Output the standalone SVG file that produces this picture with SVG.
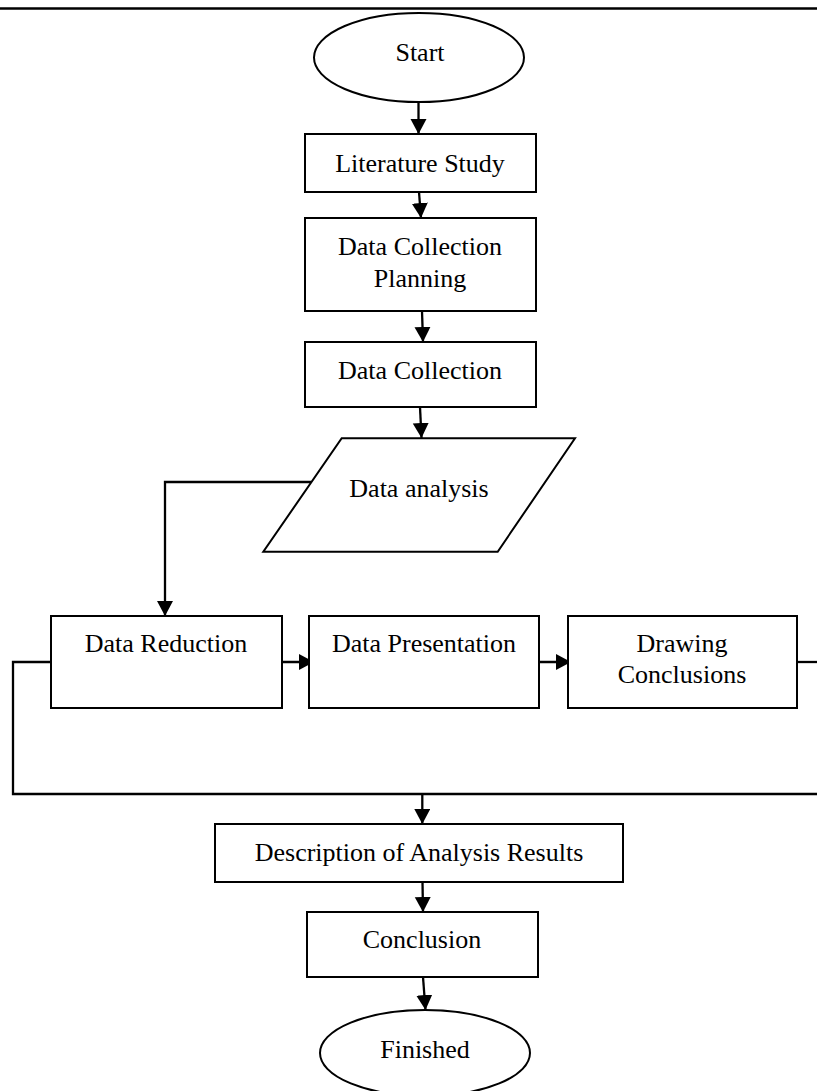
<svg xmlns="http://www.w3.org/2000/svg" width="817" height="1091" viewBox="0 0 817 1091">
<style>
.box{fill:#fff;stroke:#000;stroke-width:2}
.ln{fill:none;stroke:#000;stroke-width:2.3}
.t{font-family:"Liberation Serif","Times New Roman",serif;font-size:26px;fill:#000;text-anchor:middle}
</style>
<defs>
<marker id="ah" markerUnits="userSpaceOnUse" markerWidth="18" markerHeight="18" refX="15" refY="8" orient="auto">
<path d="M0,0 L15,8 L0,16 z" fill="#000"/>
</marker>
</defs>
<rect width="817" height="1091" fill="#fff"/>
<line x1="0" y1="8.5" x2="817" y2="8.5" stroke="#000" stroke-width="2.5"/>
<g id="connectors">
<line class="ln" x1="418.5" y1="102" x2="418.5" y2="134" marker-end="url(#ah)"/>
<line class="ln" x1="419" y1="192" x2="421" y2="218" marker-end="url(#ah)"/>
<line class="ln" x1="422" y1="311" x2="423" y2="342" marker-end="url(#ah)"/>
<line class="ln" x1="420" y1="407" x2="421.5" y2="438" marker-end="url(#ah)"/>
<polyline class="ln" points="311,482 165,482 165,616" marker-end="url(#ah)"/>
<line class="ln" x1="279" y1="662" x2="314" y2="662" marker-end="url(#ah)"/>
<line class="ln" x1="536" y1="662" x2="571" y2="662" marker-end="url(#ah)"/>
<polyline class="ln" points="51,662 13,662 13,794 817,794"/>
<line class="ln" x1="797" y1="662" x2="817" y2="662"/>
<line class="ln" x1="422.3" y1="794" x2="422.3" y2="824" marker-end="url(#ah)"/>
<line class="ln" x1="422.5" y1="882" x2="423" y2="912" marker-end="url(#ah)"/>
<line class="ln" x1="423" y1="977" x2="425.5" y2="1010" marker-end="url(#ah)"/>
</g>
<g id="start">
<ellipse class="box" cx="419" cy="57.5" rx="105" ry="44.5"/>
<text class="t" x="420" y="61">Start</text>
</g>
<g id="literature">
<rect class="box" x="305" y="134" width="231" height="58"/>
<text class="t" x="420" y="172">Literature Study</text>
</g>
<g id="planning">
<rect class="box" x="305" y="218" width="231" height="93"/>
<text class="t" x="420" y="255">Data Collection</text>
<text class="t" x="420" y="287">Planning</text>
</g>
<g id="collection">
<rect class="box" x="305" y="342" width="231" height="65"/>
<text class="t" x="420" y="379">Data Collection</text>
</g>
<g id="analysis">
<polygon class="box" points="341.7,438.3 575,438.3 497.7,551.7 263.3,551.7"/>
<text class="t" x="419" y="497">Data analysis</text>
</g>
<g id="reduction">
<rect class="box" x="51" y="616" width="231" height="92"/>
<text class="t" x="166" y="652">Data Reduction</text>
</g>
<g id="presentation">
<rect class="box" x="309" y="616" width="230" height="92"/>
<text class="t" x="424" y="652">Data Presentation</text>
</g>
<g id="drawing">
<rect class="box" x="568" y="616" width="229" height="92"/>
<text class="t" x="682" y="652">Drawing</text>
<text class="t" x="682" y="683">Conclusions</text>
</g>
<g id="description">
<rect class="box" x="215" y="824" width="408" height="58"/>
<text class="t" x="419" y="861">Description of Analysis Results</text>
</g>
<g id="conclusion">
<rect class="box" x="307" y="912" width="231" height="65"/>
<text class="t" x="422" y="948">Conclusion</text>
</g>
<g id="finished">
<ellipse class="box" cx="425" cy="1053" rx="105" ry="43"/>
<text class="t" x="425" y="1058">Finished</text>
</g>
</svg>
